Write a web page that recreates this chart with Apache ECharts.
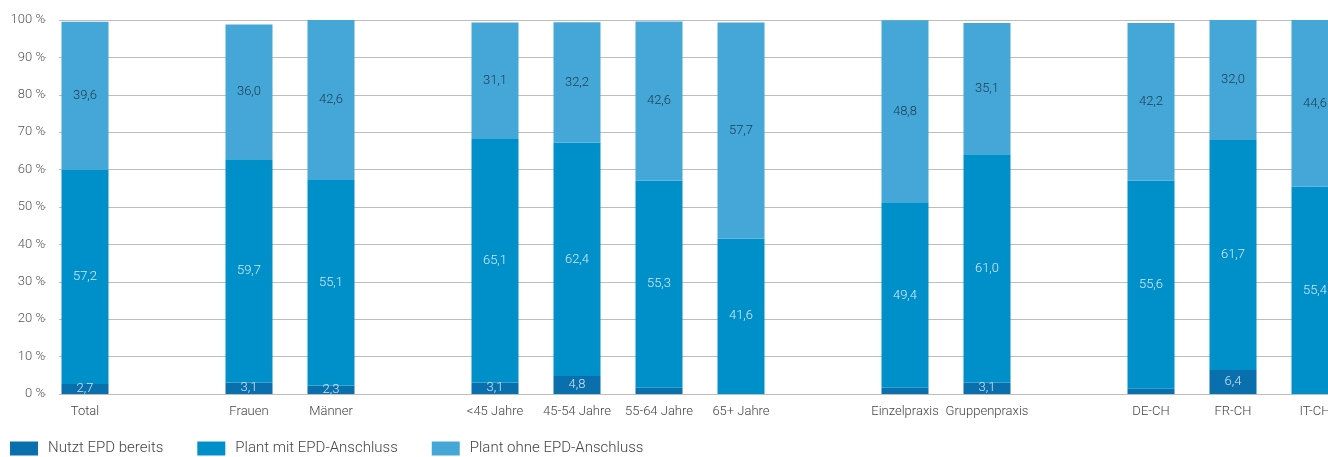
<!DOCTYPE html>
<html>
<head>
<meta charset="utf-8">
<script src="https://cdn.jsdelivr.net/npm/echarts@6/dist/echarts.min.js"></script>
<style>
  html, body { margin: 0; padding: 0; background: #fff; overflow: hidden; }
  #chart { width: 1360px; height: 457px; }
</style>
</head>
<body>
<div id="chart"></div>
<script>
// Categories; empty strings are spacer slots between the groups
const categories = ['Total', '', 'Frauen', 'Männer', '', '<45 Jahre', '45-54 Jahre', '55-64 Jahre', '65+ Jahre', '', 'Einzelpraxis', 'Gruppenpraxis', '', 'DE-CH', 'FR-CH', 'IT-CH'];

// Shares in percent
const nutztBereits   = [2.7, null, 3.1, 2.3, null, 3.1, 4.8, 1.7, 0, null, 1.7, 3.1, null, 1.4, 6.4, 0];
const plantMitEpd    = [57.2, null, 59.7, 55.1, null, 65.1, 62.4, 55.3, 41.6, null, 49.4, 61.0, null, 55.6, 61.7, 55.4];
const plantOhneEpd   = [39.6, null, 36.0, 42.6, null, 31.1, 32.2, 42.6, 57.7, null, 48.8, 35.1, null, 42.2, 32.0, 44.6];

const seriesNames = ['Nutzt EPD bereits', 'Plant mit EPD-Anschluss', 'Plant ohne EPD-Anschluss'];
const yTicks = [0, 10, 20, 30, 40, 50, 60, 70, 80, 90, 100];

const colors = ['#0a70ad', '#0090c9', '#44a7d7'];
const labelColors = ['#cfe3f0', '#d6e9f4', '#1d3b4c'];
const FONT = 'Roboto, "Noto Sans", sans-serif';
const WEIGHT = 300;

const fmt = v => (v == null || v < 2) ? '' : v.toFixed(1).replace('.', ',');

function makeSeries(name, data, i) {
  return {
    name: name,
    type: 'bar',
    stack: 'total',
    barWidth: 47,
    data: data,
    itemStyle: { color: colors[i] },
    emphasis: { disabled: true },
    label: {
      show: true,
      position: 'inside',
      color: labelColors[i],
      fontFamily: FONT,
      fontWeight: WEIGHT,
      fontSize: 13,
      formatter: p => fmt(p.value)
    }
  };
}

const chart = echarts.init(document.getElementById('chart'), null, { renderer: 'canvas' });
chart.setOption({
  animation: false,
  textStyle: { fontFamily: FONT, fontWeight: WEIGHT },
  grid: { left: 44, right: 4, top: 20, bottom: 63, containLabel: false },
  legend: {
    left: 10,
    top: 441,
    padding: 0,
    itemWidth: 28,
    itemHeight: 14,
    itemGap: 34,
    icon: 'rect',
    textStyle: { fontFamily: FONT, fontWeight: WEIGHT, fontSize: 15, color: '#444', padding: [0, 0, 0, 5] },
    data: seriesNames
  },
  xAxis: {
    type: 'category',
    data: categories,
    axisLine: { lineStyle: { color: '#bdbdbd' } },
    axisTick: { show: false },
    axisLabel: { color: '#444', fontSize: 13, fontFamily: FONT, fontWeight: WEIGHT, margin: 11, interval: 0 }
  },
  yAxis: {
    type: 'value',
    min: 0,
    max: 100,
    interval: 10,
    axisLine: { show: false },
    axisTick: { show: false },
    splitLine: { lineStyle: { color: '#bdbdbd', width: 1 } },
    axisLabel: {
      color: '#555',
      fontSize: 13,
      fontFamily: FONT,
      fontWeight: WEIGHT,
      margin: -1,
      formatter: v => yTicks.includes(v) ? v + ' %' : ''
    }
  },
  // blank strip between the axis labels and the start of the gridlines
  graphic: [{
    type: 'rect',
    shape: { x: 46, y: 10, width: 13, height: 390 },
    style: { fill: '#fff' },
    z: 1
  }],
  series: [
    makeSeries(seriesNames[0], nutztBereits, 0),
    makeSeries(seriesNames[1], plantMitEpd, 1),
    makeSeries(seriesNames[2], plantOhneEpd, 2)
  ]
});
</script>
</body>
</html>
